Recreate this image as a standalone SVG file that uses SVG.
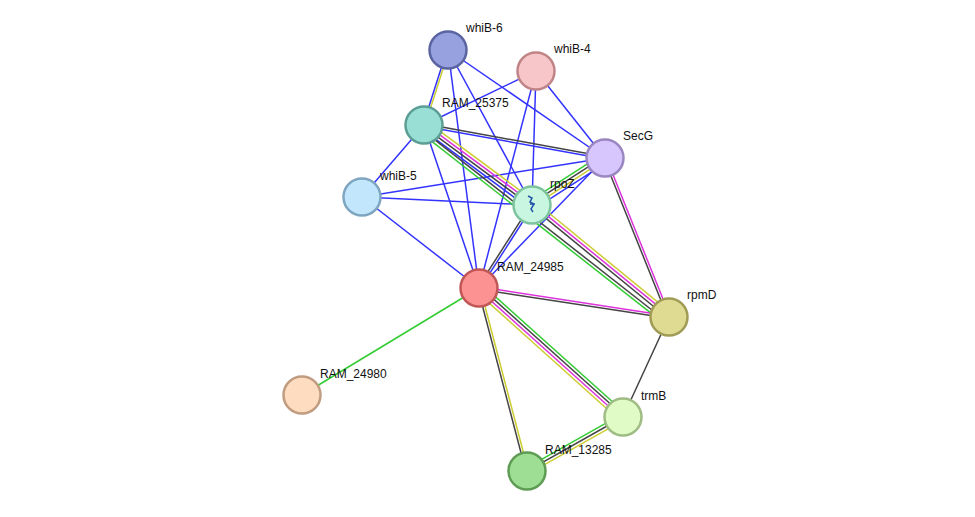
<svg xmlns="http://www.w3.org/2000/svg" width="975" height="517" viewBox="0 0 975 517">
<style>
.b{stroke:#3333ff;stroke-width:1.5}
.k{stroke:#444;stroke-width:1.5}
.g{stroke:#33cc33;stroke-width:1.5}
.y{stroke:#cccc33;stroke-width:1.5}
.m{stroke:#dd33dd;stroke-width:1.5}
.n{stroke-width:2.5}
text{font-family:"Liberation Sans",Arial,sans-serif;font-size:12px;fill:#111}
</style>
<rect width="975" height="517" fill="#fff"/>
<g id="edges" fill="none">
<line class="b" x1="448" y1="50" x2="532" y2="205"/>
<line class="b" x1="448" y1="50" x2="605" y2="158"/>
<line class="b" x1="448" y1="50" x2="479" y2="288"/>
<line class="b" x1="536" y1="71" x2="424" y2="125"/>
<line class="b" x1="536" y1="71" x2="532" y2="205"/>
<line class="b" x1="536" y1="71" x2="605" y2="158"/>
<line class="b" x1="536" y1="71" x2="479" y2="288"/>
<line class="b" x1="424" y1="125" x2="362" y2="197"/>
<line class="b" x1="424" y1="125" x2="479" y2="288"/>
<line class="b" x1="362" y1="197" x2="605" y2="158"/>
<line class="b" x1="362" y1="197" x2="532" y2="205"/>
<line class="b" x1="362" y1="197" x2="479" y2="288"/>
<line class="b" x1="605" y1="158" x2="479" y2="288"/>
<line class="g" x1="479" y1="288" x2="302" y2="395"/>
<line class="k" x1="669" y1="317" x2="623" y2="417"/>
<g transform="translate(448,50) rotate(107.7)"><line class="y" x2="78.7" y1="-1" y2="-1"/><line class="b" x2="78.7" y1="1" y2="1"/></g>
<g transform="translate(424,125) rotate(36.5)"><line class="y" x2="134.4" y1="-4.5" y2="-4.5"/><line class="m" x2="134.4" y1="-1.5" y2="-1.5"/><line class="k" x2="134.4" y1="1.5" y2="1.5"/><line class="b" x2="134.4" y1="4.5" y2="4.5"/></g>
<g transform="translate(424,125) rotate(38.1)"><line class="k" x2="311.3" y1="5" y2="5"/><line class="g" x2="311.3" y1="8" y2="8"/></g>
<g transform="translate(424,125) rotate(10.3)"><line class="k" x2="184" y1="-1.2" y2="-1.2"/><line class="b" x2="184" y1="1.2" y2="1.2"/></g>
<g transform="translate(532,205) rotate(-32.8)"><line class="g" x2="86.8" y1="-4.5" y2="-4.5"/><line class="k" x2="86.8" y1="-1.5" y2="-1.5"/><line class="y" x2="86.8" y1="1.5" y2="1.5"/><line class="b" x2="86.8" y1="4.5" y2="4.5"/></g>
<g transform="translate(532,205) rotate(122.6)"><line class="b" x2="98.5" y1="-1.2" y2="-1.2"/><line class="k" x2="98.5" y1="1.2" y2="1.2"/></g>
<g transform="translate(532,205) rotate(39.3)"><line class="y" x2="177" y1="-4.5" y2="-4.5"/><line class="m" x2="177" y1="-1.5" y2="-1.5"/><line class="k" x2="177" y1="1.5" y2="1.5"/></g>
<g transform="translate(605,158) rotate(68.1)"><line class="m" x2="171.4" y1="-1.2" y2="-1.2"/><line class="k" x2="171.4" y1="1.2" y2="1.2"/></g>
<g transform="translate(479,288) rotate(8.7)"><line class="m" x2="192.2" y1="-1.2" y2="-1.2"/><line class="k" x2="192.2" y1="1.2" y2="1.2"/></g>
<g transform="translate(479,288) rotate(41.9)"><line class="g" x2="193.3" y1="-4.5" y2="-4.5"/><line class="k" x2="193.3" y1="-1.5" y2="-1.5"/><line class="m" x2="193.3" y1="1.5" y2="1.5"/><line class="y" x2="193.3" y1="4.5" y2="4.5"/></g>
<g transform="translate(479,288) rotate(75.3)"><line class="y" x2="189.2" y1="-1.2" y2="-1.2"/><line class="k" x2="189.2" y1="1.2" y2="1.2"/></g>
<g transform="translate(623,417) rotate(150.6)"><line class="y" x2="110.1" y1="-3" y2="-3"/><line class="k" x2="110.1" y1="0" y2="0"/><line class="g" x2="110.1" y1="3" y2="3"/></g>
</g>
<g id="whiB-6"><circle class="n" cx="448" cy="50" r="18.5" fill="#98a1e0" stroke="#5a64a0"/><text x="466" y="32">whiB-6</text></g>
<g id="whiB-4"><circle class="n" cx="536" cy="71" r="18.5" fill="#f6c6c8" stroke="#c08487"/><text x="554" y="53">whiB-4</text></g>
<g id="RAM_25375"><circle class="n" cx="424" cy="125" r="18.5" fill="#99dfd6" stroke="#5c9e94"/><text x="442" y="107">RAM_25375</text></g>
<g id="SecG"><circle class="n" cx="605" cy="158" r="18.5" fill="#d6c6fd" stroke="#9a86c0"/><text x="623" y="140">SecG</text></g>
<g id="whiB-5"><circle class="n" cx="362" cy="197" r="18.5" fill="#c2e7fd" stroke="#7fa6c0"/><text x="380" y="180">whiB-5</text></g>
<g id="rpoZ"><circle class="n" cx="532" cy="205" r="18.5" fill="#c8f6e0" stroke="#7dc49e"/><path d="M528 196 l4 2 -2 4 4 2 -3 5 2 3 M530 204 h5" fill="none" stroke="#2255aa" stroke-width="1.5"/><text x="550" y="188">rpoZ</text></g>
<g id="RAM_24985"><circle class="n" cx="479" cy="288" r="18.5" fill="#fd9292" stroke="#c05656"/><text x="497" y="271">RAM_24985</text></g>
<g id="rpmD"><circle class="n" cx="669" cy="317" r="18.5" fill="#dfdb92" stroke="#a09c56"/><text x="687" y="299">rpmD</text></g>
<g id="RAM_24980"><circle class="n" cx="302" cy="395" r="18.5" fill="#fedcc0" stroke="#c09c80"/><text x="320" y="378">RAM_24980</text></g>
<g id="trmB"><circle class="n" cx="623" cy="417" r="18.5" fill="#e0fbc6" stroke="#9fbc84"/><text x="641" y="400">trmB</text></g>
<g id="RAM_13285"><circle class="n" cx="527" cy="471" r="18.5" fill="#9edd94" stroke="#5e9c54"/><text x="545" y="454">RAM_13285</text></g>
</svg>
